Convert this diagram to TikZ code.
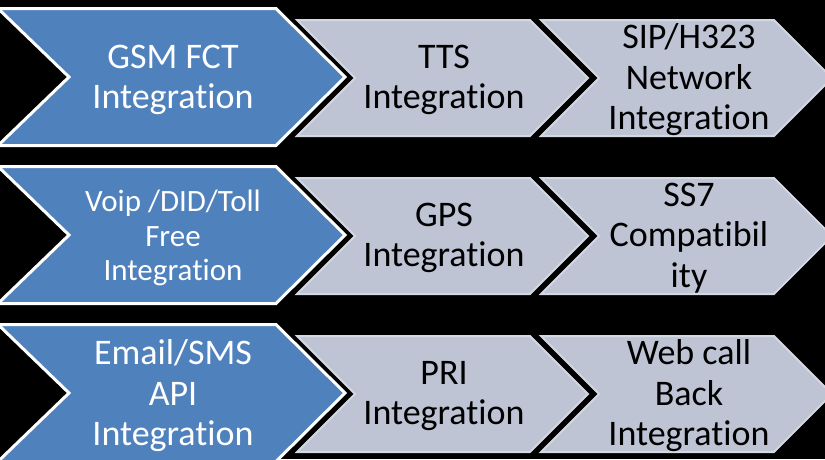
\documentclass[tikz,border=0pt]{standalone}
\usepackage{fontspec}
\setmainfont[Ligatures={NoCommon}]{Carlito}
\definecolor{bluefill}{HTML}{4F81BD}
\definecolor{grayfill}{HTML}{BEC4D4}
\definecolor{grayline}{HTML}{D3D8E2}
\tikzset{
  bluechev/.style={fill=bluefill, draw=white, line width=3pt, line join=miter},
  graychev/.style={fill=grayfill, draw=grayline, line width=2pt, line join=miter},
  bluetext/.style={text=white, align=center, inner sep=0pt, font=\fontsize{36}{40.5}\selectfont},
  bluetextsmall/.style={text=white, align=center, inner sep=0pt, font=\fontsize{31}{34.5}\selectfont},
  graytext/.style={text=black, align=center, inner sep=0pt, font=\fontsize{36}{40.5}\selectfont},
}
\newcommand\graychevron[2]{\draw[graychev,shift={(#1,#2)}] (0,0) -- (233,0) -- (291,58) -- (233,116) -- (0,116) -- (58,58) -- cycle;}
\newcommand\bluechevron[1]{\draw[bluechev,shift={(0,#1)}] (-2,1.5) -- (276,1.5) -- (345,70) -- (276,138.5) -- (-2,138.5) -- (69,70) -- cycle;}
\begin{document}
\begin{tikzpicture}[x=1pt,y=-1pt]
  \fill[black] (0,0) rectangle (825,459);
  \useasboundingbox (0,0) rectangle (825,459);
  \clip (0,0) rectangle (825,459);
  % row 1
  \graychevron{541}{20}
  \graychevron{297}{20}
  \bluechevron{7}
  % row 2
  \graychevron{541}{178}
  \graychevron{297}{178}
  \bluechevron{165}
  % row 3
  \graychevron{541}{336}
  \graychevron{297}{336}
  \bluechevron{323}
  % texts
  \node[bluetext] (b1) at (173,80) {GSM FCT\\Integration};
  \node[graytext] (g11) at (444,80) {TTS\\Integration};
  \node[graytext] (g12) at (689,80) {SIP/H323\\Network\\Integration};
  \node[bluetextsmall] (b2) at (173,238) {Voip /DID/Toll\\Free\\Integration};
  \node[graytext] (g21) at (444,238) {GPS\\Integration};
  \node[graytext] (g22) at (689,238) {SS7\\Compatibil\\ity};
  \node[bluetext] (b3) at (173,396) {Email/SMS\\API\\Integration};
  \node[graytext] (g31) at (444,396) {PRI\\Integration};
  \node[graytext] (g32) at (689,396) {Web call\\Back\\Integration};
\end{tikzpicture}
\end{document}
